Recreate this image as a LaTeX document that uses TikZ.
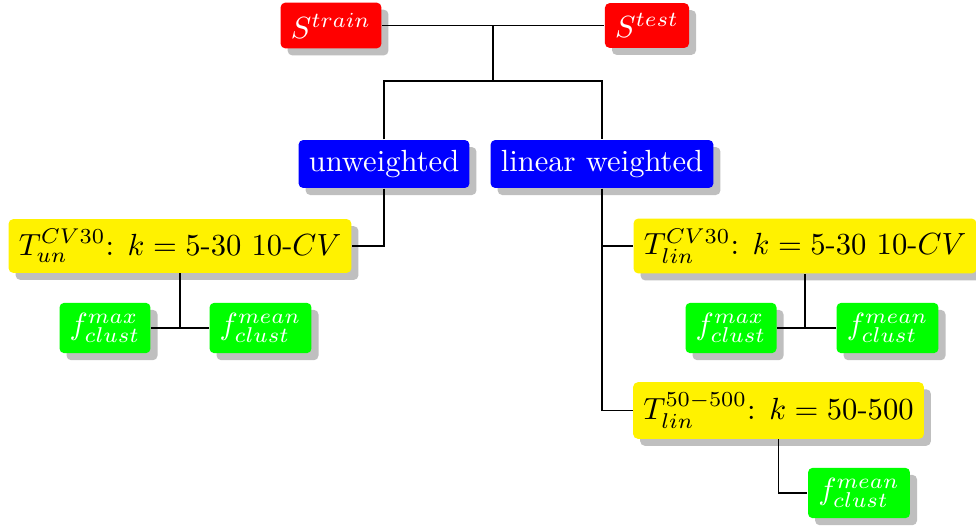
\documentclass[tikz,border=0pt]{standalone}
\usetikzlibrary{shadows}
\begin{document}
\begin{tikzpicture}[x=0.3268pt,y=-0.3268pt,
  box/.style={rounded corners=1.5pt, inner sep=3.333pt,
    drop shadow={shadow xshift=2.3pt, shadow yshift=-2.3pt, fill=black!25, opacity=1}},
  redbox/.style={box, fill=red, text=white},
  bluebox/.style={box, fill=blue, text=white},
  yellowbox/.style={box, fill=yellow},
  greenbox/.style={box, fill=green, text=white},
  conn/.style={draw=black, line width=0.4pt}]
\useasboundingbox (0,0) rectangle (976,529);
% top
\node[redbox] (strain) at (331,25.5) {$S^{train}$};
\node[redbox] (stest) at (647,25.5) {$S^{test}$};
\node[bluebox] (unw) at (384,164) {unweighted};
\node[bluebox] (lin) at (602,164) {linear weighted};
\node[yellowbox] (tun) at (180,246) {$T^{CV30}_{un}$: $k=5$-30 10-$CV$};
\node[yellowbox] (tlin) at (805,246) {$T^{CV30}_{lin}$: $k=5$-30 10-$CV$};
\node[yellowbox] (tfifty) at (778.5,410.5) {$T^{50-500}_{lin}$: $k=50$-500};
\node[greenbox] (fmaxa) at (105,328) {$f^{max}_{clust}$};
\node[greenbox] (fmeana) at (260.5,328) {$f^{mean}_{clust}$};
\node[greenbox] (fmaxb) at (731,328) {$f^{max}_{clust}$};
\node[greenbox] (fmeanb) at (887.5,328) {$f^{mean}_{clust}$};
\node[greenbox] (fmeanc) at (859,493) {$f^{mean}_{clust}$};
\coordinate (mid) at (493,25);
\coordinate (split) at (493,81);
% connectors
\draw[conn] (strain) -- (stest);
\draw[conn] (mid) -- (split);
\draw[conn] (unw.north) |- (split) -| (lin.north);
\draw[conn] (unw.south) |- (tun.east);
\draw[conn] (fmaxa.east) -- (fmeana.west);
\draw[conn] (tun.south) -- (tun.south |- fmaxa.east);
\draw[conn] (lin.south) |- (tlin.west);
\draw[conn] (lin.south) |- (tfifty.west);
\draw[conn] (fmaxb.east) -- (fmeanb.west);
\draw[conn] (tlin.south) -- (tlin.south |- fmaxb.east);
\draw[conn] (tfifty.south) |- (fmeanc.west);
\end{tikzpicture}
\end{document}
